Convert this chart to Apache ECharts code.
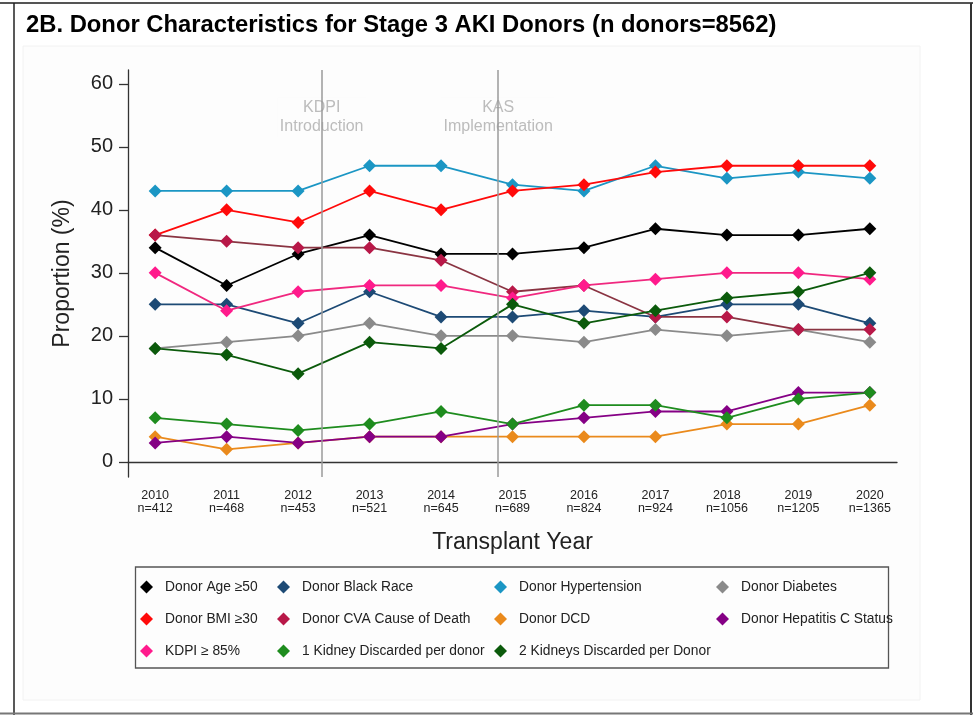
<!DOCTYPE html>
<html>
<head>
<meta charset="utf-8">
<script src="https://cdn.jsdelivr.net/npm/echarts@6/dist/echarts.min.js"></script>
<style>
  html, body { margin: 0; padding: 0; background: #fff; }
  #chart { width: 973px; height: 715px; }
</style>
</head>
<body>
<div id="chart"></div>
<script>
// years and donors per year
const years = [2010, 2011, 2012, 2013, 2014, 2015, 2016, 2017, 2018, 2019, 2020]
const nDonors = [412, 468, 453, 521, 645, 689, 824, 924, 1056, 1205, 1365]
const yTicks = [0, 10, 20, 30, 40, 50, 60]

// proportions (%)
const ageOver50 = [34, 28, 33, 36, 33, 33, 34, 37, 36, 36, 37]
const blackRace = [25, 25, 22, 27, 23, 23, 24, 23, 25, 25, 22]
const hypertension = [43, 43, 43, 47, 47, 44, 43, 47, 45, 46, 45]
const diabetes = [18, 19, 20, 22, 20, 20, 19, 21, 20, 21, 19]
const bmiOver30 = [36, 40, 38, 43, 40, 43, 44, 46, 47, 47, 47]
const cvaDeath = [36, 35, 34, 34, 32, 27, 28, 23, 23, 21, 21]
const dcd = [4, 2, 3, 4, 4, 4, 4, 4, 6, 6, 9]
const hepC = [3, 4, 3, 4, 4, 6, 7, 8, 8, 11, 11]
const kdpi85 = [30, 24, 27, 28, 28, 26, 28, 29, 30, 30, 29]
const oneKidney = [7, 6, 5, 6, 8, 6, 9, 9, 7, 10, 11]
const twoKidneys = [18, 17, 14, 19, 18, 25, 22, 24, 26, 27, 30]

// policy events (fractional year)
const events = [
  { x: 2012.33, text: 'KDPI\nIntroduction' },
  { x: 2014.8, text: 'KAS\nImplementation' }
]

const myChart = echarts.init(document.getElementById('chart'))

function mk (name, values, color, lineColor) {
  return {
    name: name,
    type: 'line',
    data: years.map((y, i) => [y, values[i]]),
    symbol: 'diamond',
    symbolSize: 13,
    itemStyle: { color: color },
    lineStyle: { color: lineColor || color, width: 1.8 },
    z: 3
  }
}

const lineSeries = [
  mk('Donor Age ≥50', ageOver50, '#000000'),
  mk('Donor Black Race', blackRace, '#1d4a75'),
  mk('Donor Hypertension', hypertension, '#1b96c4'),
  mk('Donor Diabetes', diabetes, '#8a8a8a'),
  mk('Donor BMI ≥30', bmiOver30, '#ff0a0a'),
  mk('Donor CVA Cause of Death', cvaDeath, '#b81848', '#8a3442'),
  mk('Donor DCD', dcd, '#ea8a1c'),
  mk('Donor Hepatitis C Status', hepC, '#850085'),
  mk('KDPI ≥ 85%', kdpi85, '#ff1a8c', '#f0287f'),
  mk('1 Kidney Discarded per donor', oneKidney, '#1e8c1e'),
  mk('2 Kidneys Discarded per Donor', twoKidneys, '#0b5a0b')
]

const legendCols = [
  { left: 140, names: ['Donor Age ≥50', 'Donor BMI ≥30', 'KDPI ≥ 85%'] },
  { left: 277, names: ['Donor Black Race', 'Donor CVA Cause of Death', '1 Kidney Discarded per donor'] },
  { left: 494, names: ['Donor Hypertension', 'Donor DCD', '2 Kidneys Discarded per Donor'] },
  { left: 716, names: ['Donor Diabetes', 'Donor Hepatitis C Status'] }
]

const options = {
  backgroundColor: '#fff',
  animation: false,
  title: {
    text: '2B. Donor Characteristics for Stage 3 AKI Donors (n donors=8562)',
    left: 21,
    top: 8,
    textStyle: { fontFamily: 'Liberation Sans', fontSize: 23.8, fontWeight: 'bold', color: '#000' }
  },
  graphic: [
    { type: 'rect', z: -10, shape: { x: 23, y: 46, width: 897, height: 654 }, style: { fill: '#fdfdfd', stroke: '#f2f2f2', lineWidth: 1 } },
    { type: 'line', shape: { x1: 0, y1: 3, x2: 973, y2: 3 }, style: { stroke: '#555', lineWidth: 2 } },
    { type: 'line', shape: { x1: 14, y1: 3, x2: 14, y2: 715 }, style: { stroke: '#222', lineWidth: 1.5 } },
    { type: 'line', shape: { x1: 971, y1: 3, x2: 971, y2: 715 }, style: { stroke: '#333', lineWidth: 2 } },
    { type: 'line', shape: { x1: 0, y1: 713.5, x2: 973, y2: 713.5 }, style: { stroke: '#777', lineWidth: 2 } },
    { type: 'rect', shape: { x: 135.5, y: 567, width: 753, height: 101 }, style: { fill: 'none', stroke: '#555', lineWidth: 1.3 } }
  ],
  grid: { left: 128, right: 76, top: 70, bottom: 238 },
  legend: legendCols.map(c => ({
    data: c.names,
    orient: 'vertical',
    left: c.left,
    top: 580,
    padding: 0,
    itemGap: 18,
    itemWidth: 13,
    itemHeight: 13,
    icon: 'diamond',
    selectedMode: false,
    textStyle: { fontFamily: 'Liberation Sans', fontSize: 13.8, lineHeight: 13, color: '#222', padding: [0, 0, 0, 7] }
  })),
  xAxis: {
    type: 'value',
    min: 2009.62,
    max: 2020.38,
    name: 'Transplant Year',
    nameLocation: 'middle',
    nameGap: 54,
    nameTextStyle: { fontFamily: 'Liberation Sans', fontSize: 23, color: '#222' },
    axisLine: { show: true, lineStyle: { color: '#333', width: 1.3 } },
    axisTick: { show: false },
    splitLine: { show: false },
    axisLabel: {
      customValues: years,
      margin: 12,
      fontFamily: 'Liberation Sans',
      fontSize: 12.5,
      lineHeight: 13,
      color: '#222',
      formatter: function (v) {
        const i = years.indexOf(Math.round(v))
        return Math.round(v) + '\nn=' + nDonors[i]
      }
    }
  },
  yAxis: {
    type: 'value',
    min: -2.4,
    max: 62.2,
    name: 'Proportion (%)',
    nameLocation: 'middle',
    nameGap: 54,
    nameTextStyle: { fontFamily: 'Liberation Sans', fontSize: 23, color: '#222' },
    axisLine: { show: true, lineStyle: { color: '#333', width: 1.3 } },
    axisTick: { show: true, customValues: yTicks, length: 9, lineStyle: { color: '#333', width: 1.3 } },
    splitLine: { show: false },
    axisLabel: {
      customValues: yTicks,
      margin: 15,
      fontFamily: 'Liberation Sans',
      fontSize: 20,
      color: '#222'
    }
  },
  series: [
    {
      name: 'events',
      type: 'line',
      data: [],
      silent: true,
      z: 1,
      markLine: {
        silent: true,
        symbol: 'none',
        label: { show: false },
        lineStyle: { color: '#9a9a9a', width: 1.5, type: 'solid' },
        data: events.map(e => ({ xAxis: e.x }))
      }
    },
    {
      name: 'eventLabels',
      type: 'scatter',
      silent: true,
      symbolSize: 0,
      z: 2,
      data: events.map(e => [e.x, 54.7, e.text]),
      label: {
        show: true,
        position: 'inside',
        formatter: p => p.value[2],
        fontFamily: 'Liberation Sans',
        fontSize: 16,
        lineHeight: 19,
        color: '#ababab',
        backgroundColor: '#fdfdfd',
        padding: [1, 2]
      }
    }
  ].concat(lineSeries)
}

myChart.setOption(options)
</script>
</body>
</html>
